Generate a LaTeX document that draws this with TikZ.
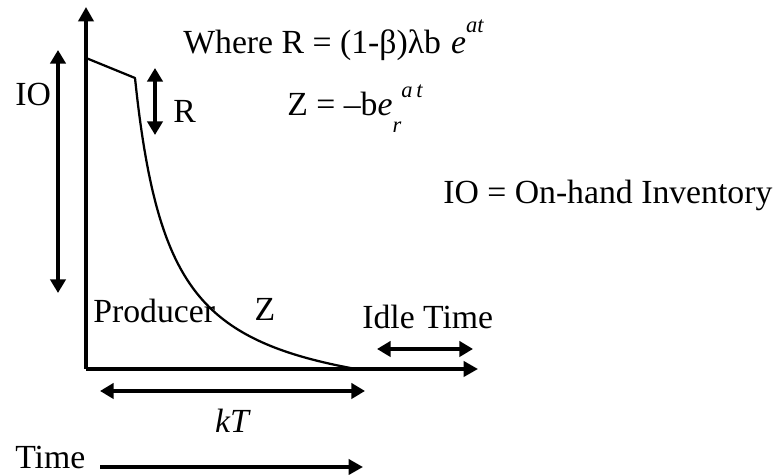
\documentclass[tikz,border=0pt]{standalone}
\usepackage{fontspec}
\setmainfont{Liberation Serif}
\usetikzlibrary{arrows.meta}
\newcommand{\smallsup}{\fontsize{16}{16}\selectfont}
\begin{document}
\begin{tikzpicture}[
	axisline/.style={line width=2.4pt, -{Triangle[length=0.36cm, width=0.38cm]}},
	dimarrow/.style={line width=2.4pt, {Triangle[length=0.34cm, width=0.38cm]}-{Triangle[length=0.34cm, width=0.38cm]}},
	curveline/.style={line width=1.6pt, line join=round},
	lbl/.style={inner sep=0pt, anchor=base west, font=\fontsize{24}{28}\selectfont}]
	\useasboundingbox (0, 0) rectangle (19.475, 11.875);
	% Paths, nodes and wires:
	\coordinate (O) at (2.15, 2.65);
	\coordinate (ytop) at (2.15, 11.7);
	\coordinate (xend) at (11.95, 2.65);
	\coordinate (peak) at (2.15, 10.425);
	\coordinate (kink) at (3.375, 9.925);
	\coordinate (iotop) at (1.45, 10.625);
	\coordinate (iobot) at (1.45, 4.55);
	\coordinate (rtop) at (3.875, 10.175);
	\coordinate (rbot) at (3.875, 8.5);
	\coordinate (idleL) at (9.425, 3.15);
	\coordinate (idleR) at (11.825, 3.15);
	\coordinate (kTL) at (2.5, 2.1);
	\coordinate (kTR) at (9.125, 2.1);
	\coordinate (timeL) at (2.5, 0.2);
	\coordinate (timeR) at (9.075, 0.2);
	\draw[axisline] (O) -- (ytop);
	\draw[axisline] (O) -- (xend);
	\draw[curveline] (peak) -- (kink) -- plot[domain=3.375:8.9, samples=100, smooth] (\x, {1.4975+7.374/(\x-2.5)});
	\draw[dimarrow] (iotop) -- (iobot);
	\draw[dimarrow] (rtop) -- (rbot);
	\draw[dimarrow] (idleL) -- (idleR);
	\draw[dimarrow] (kTL) -- (kTR);
	\draw[axisline] (timeL) -- (timeR);
	\node[lbl] (iolbl) at (0.375, 9.225){IO};
	\node[lbl] (rlbl) at (4.325, 8.8){R};
	\node[lbl] (rlaw) at (4.575, 10.525){Where R = (1-β)λb\hspace{0.3em}\textit{e}\raisebox{0.65em}{\smallsup\textit{at}}};
	\node[lbl] (zlaw) at (7.175, 8.975){Z = –b\textit{e}\raisebox{-0.5em}{\smallsup\textit{r}}\raisebox{0.55em}{\smallsup\textit{a\,t}}};
	\node[lbl] (iodef) at (11.075, 6.775){IO = On-hand Inventory};
	\node[lbl] (prod) at (2.325, 3.8){Producer};
	\node[lbl, anchor=base] (zlbl) at (6.625, 3.85){Z};
	\node[lbl] (idle) at (9.05, 3.65){Idle Time};
	\node[lbl, anchor=base] (kT) at (5.825, 1.05){\textit{kT}};
	\node[lbl] (time) at (0.375, 0.16){Time};
\end{tikzpicture}
\end{document}
